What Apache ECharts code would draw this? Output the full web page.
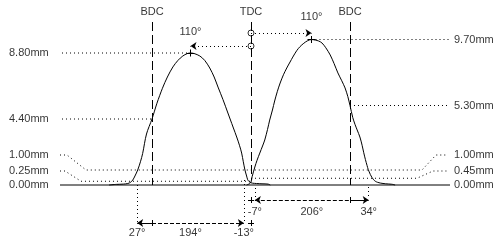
<!DOCTYPE html>
<html><head><meta charset="utf-8">
<script src="https://cdn.jsdelivr.net/npm/echarts@6/dist/echarts.min.js"></script>
<style>html,body{margin:0;padding:0;background:#fff}#c{width:500px;height:240px}</style>
</head><body><div id="c"></div>
<script>
// ---- data ----
const markerNames = ['BDC', 'TDC', 'BDC'];
const markerAngles = [-180, 0, 180];
const exhaustAngle = [-258,-245,-232,-224,-219,-215,-211,-206,-201,-197,-190,-180,-171,-161,-152,-142,-133,-124,-116,-110,-103,-93,-84,-75,-67,-60,-51,-42,-38,-32,-26,-21,-17,-14,-11,-8,-6,-4,-2,0,3,10,20,31,35];
const exhaustLift  = [0,0.04,0.06,0.1,0.18,0.33,0.6,1.0,1.55,2.1,3.4,4.4,5.45,6.45,7.2,7.87,8.3,8.6,8.76,8.8,8.76,8.6,8.3,7.8,7.2,6.53,5.7,4.8,4.4,3.8,3.2,2.65,2.13,1.55,1.0,0.6,0.35,0.25,0.18,0.15,0.12,0.1,0.08,0.06,0];
const intakeAngle = [-8,-3,0,2,7,11,16,21,25,30,34,39,43,48,53,59,65,71,76,83,89,96,103,110,117,123,129,136,144,151,158,165,171,176,180,185,189,193,198,202,205,208,211,213,217,220,223,226,230,235,245,256,262];
const intakeLift  = [0,0.08,0.2,0.55,1.2,1.65,2.13,2.6,3.0,3.7,4.33,5.0,5.6,6.25,6.8,7.35,7.8,8.2,8.53,8.95,9.22,9.45,9.62,9.70,9.66,9.6,9.47,9.15,8.67,8.1,7.47,6.95,6.47,5.9,5.3,4.5,4.05,3.67,3.2,2.65,2.15,1.7,1.3,1.05,0.7,0.5,0.35,0.25,0.18,0.13,0.08,0.05,0];
const leftTickLabels  = ['8.80mm','4.40mm','1.00mm','0.25mm','0.00mm'];
const leftTickValues  = [8.80, 4.40, 1.00, 0.25, 0.00];
const rightTickLabels = ['9.70mm','5.30mm','1.00mm','0.45mm','0.00mm'];
const rightTickValues = [9.70, 5.30, 1.00, 0.45, 0.00];
const exhaustTiming = [27, 194, -13];  // opens BBDC, duration, closes ATDC
const intakeTiming  = [-7, 206, 34];   // opens BTDC, duration, closes ABDC
const centerlines   = [110, 110];      // exhaust BTDC, intake ATDC

// ---- layout ----
const W = 500, H = 240;
const TDC_PX = 251, PX_PER_DEG = 0.55, BASE_PX = 185, PX_PER_MM = 15;
const px2x = p => (p - TDC_PX) / PX_PER_DEG;
const py2y = p => (BASE_PX - p) / PX_PER_MM;
const FONT = {color:'#000', fontFamily:'Liberation Sans, Arial, sans-serif', fontSize:11};

const exOpen = -180 - exhaustTiming[0];
const exClose = exhaustTiming[2];
const inOpen = -intakeTiming[0];
const inClose = 180 + intakeTiming[2];
const exCenter = -centerlines[0], inCenter = centerlines[1];
const exPeak = leftTickValues[0], inPeak = rightTickValues[0];

const dotted = {color:'#000', width:1, type:[1,3]};
const dashed = {color:'#000', width:1, type:[9,4]};
const shortDash = {color:'#000', width:1, type:[4,2]};
const solid = {color:'#000', width:1, type:'solid'};

function seg(x1,y1,x2,y2,style,s1,s2){
  return [{coord:[x1,y1], symbol:s1||'none', lineStyle:style},
          {coord:[x2,y2], symbol:s2||'none', lineStyle:style}];
}
function cross(x,y,rx,ry){
  const dx = rx/PX_PER_DEG, dy = ry/PX_PER_MM;
  return [seg(x-dx,y,x+dx,y,solid), seg(x,y-dy,x,y+dy,solid)];
}
function tick(x,y,r){ const dy=r/PX_PER_MM; return seg(x,y-dy,x,y+dy,solid); }

const yExArrow = py2y(223), yInArrow = py2y(200);
const yExTop = py2y(46), yInTop = py2y(33);
const yTopLine = py2y(22);

const marks = [
  // BDC / TDC dashed verticals
  seg(markerAngles[0], yTopLine, markerAngles[0], 0, dashed),
  seg(markerAngles[1], yTopLine, markerAngles[1], py2y(180), dashed),
  seg(markerAngles[2], yTopLine, markerAngles[2], 0, dashed),
  // centerline arrows
  seg(0, yExTop, exCenter, yExTop, dotted, 'none', 'arrow'),
  seg(0, yInTop, inCenter, yInTop, dotted, 'none', 'arrow'),
  ...cross(exCenter, exPeak, 4, 3.5),
  ...cross(inCenter, inPeak, 4, 3.5),
  // timing verticals
  seg(exOpen, 0, exOpen, yExArrow, dotted),
  seg(exClose, py2y(180), exClose, yExArrow, dotted),
  seg(inOpen, py2y(188), inOpen, py2y(198), dotted),
  seg(inClose, py2y(187), inClose, py2y(199), dotted),
  // exhaust duration arrow
  seg(exOpen, yExArrow, -180, yExArrow, solid, 'arrow', 'none'),
  seg(-180, yExArrow, exClose, yExArrow, shortDash, 'none', 'arrow'),
  tick(-180, yExArrow, 3),
  ...cross(0, yExArrow, 3, 3),
  // intake duration arrow
  seg(inOpen, yInArrow, 180, yInArrow, shortDash, 'arrow', 'none'),
  seg(180, yInArrow, inClose, yInArrow, solid, 'none', 'arrow'),
  tick(180, yInArrow, 3),
  ...cross(0, yInArrow, 3, 3)
];

function dotSeries(points){
  return {type:'line', data:points, showSymbol:false, silent:true, animation:false,
          lineStyle:dotted, z:1};
}

const labels = [];
markerNames.forEach((n,i)=>labels.push({name:n, value:[markerAngles[i], py2y(12)]}));
labels.push({name:centerlines[0]+'°', value:[exCenter, py2y(32)]});
labels.push({name:centerlines[1]+'°', value:[inCenter, py2y(17)]});
const leftRows = [leftTickValues[0], leftTickValues[1], py2y(155), py2y(171), leftTickValues[4]];
const rightRows = [rightTickValues[0], rightTickValues[1], py2y(155), py2y(171), rightTickValues[4]];
leftTickLabels.forEach((t,i)=>labels.push({name:t, value:[px2x(9), leftRows[i]], label:{align:'left'}}));
rightTickLabels.forEach((t,i)=>labels.push({name:t, value:[px2x(454), rightRows[i]], label:{align:'left'}}));
const yExLab = py2y(233), yInLab = py2y(212);
labels.push({name:exhaustTiming[0]+'°', value:[exOpen, yExLab]});
labels.push({name:exhaustTiming[1]+'°', value:[(exOpen+exClose)/2, yExLab]});
labels.push({name:exhaustTiming[2]+'°', value:[exClose, yExLab]});
labels.push({name:intakeTiming[0]+'°', value:[inOpen, yInLab]});
labels.push({name:intakeTiming[1]+'°', value:[(inOpen+inClose)/2, yInLab]});
labels.push({name:intakeTiming[2]+'°', value:[inClose, yInLab]});

const chart = echarts.init(document.getElementById('c'), null, {renderer:'canvas'});
chart.setOption({
  animation:false,
  backgroundColor:'#fff',
  grid:{left:0, right:0, top:0, bottom:0},
  xAxis:{type:'value', min:px2x(0), max:px2x(W), show:false},
  yAxis:{type:'value', min:py2y(H), max:py2y(0), show:false},
  series:[
    // leader lines
    dotSeries([[px2x(62), leftTickValues[0]], [exCenter, leftTickValues[0]]]),
    dotSeries([[px2x(62), leftTickValues[1]], [-180, leftTickValues[1]]]),
    dotSeries([[inCenter, rightTickValues[0]], [px2x(450), rightTickValues[0]]]),
    dotSeries([[180, rightTickValues[1]], [px2x(450), rightTickValues[1]]]),
    dotSeries([[px2x(60), py2y(155)], [px2x(67), py2y(155)], [px2x(86), leftTickValues[2]],
               [px2x(422), rightTickValues[2]], [px2x(436), py2y(155)], [px2x(448), py2y(155)]]),
    dotSeries([[px2x(60), py2y(171)], [px2x(65), py2y(171)], [px2x(81), leftTickValues[3]], [0, leftTickValues[3]]]),
    dotSeries([[0, rightTickValues[3]], [px2x(417), rightTickValues[3]], [px2x(433), py2y(171)], [px2x(448), py2y(171)]]),
    // baseline
    {type:'line', data:[[px2x(60),0],[px2x(450),0]], showSymbol:false, silent:true,
     lineStyle:solid, z:2},
    // cam lobes
    {type:'line', name:'Exhaust', data:exhaustAngle.map((a,i)=>[a, exhaustLift[i]]),
     showSymbol:false, smooth:0.3, silent:true, lineStyle:solid, z:3},
    {type:'line', name:'Intake', data:intakeAngle.map((a,i)=>[a, intakeLift[i]]),
     showSymbol:false, smooth:0.3, silent:true, lineStyle:solid, z:3},
    // annotation host
    {type:'line', data:[[0,0]], showSymbol:false, silent:true, lineStyle:{opacity:0},
     markLine:{silent:true, animation:false, symbol:'none', symbolSize:6,
       label:{show:false}, emphasis:{disabled:true},
       itemStyle:{color:'#000'}, lineStyle:solid, data:marks}},
    // TDC circles
    {type:'scatter', data:[[0, yExTop],[0, yInTop]], symbol:'circle', symbolSize:6, silent:true,
     itemStyle:{color:'rgba(0,0,0,0)', borderColor:'#000', borderWidth:1}, z:5},
    // texts
    {type:'scatter', data:labels, symbolSize:1, silent:true,
     itemStyle:{color:'rgba(0,0,0,0)'},
     label:Object.assign({show:true, position:'inside', formatter:'{b}'}, FONT), z:6}
  ]
});
</script>
</body></html>
